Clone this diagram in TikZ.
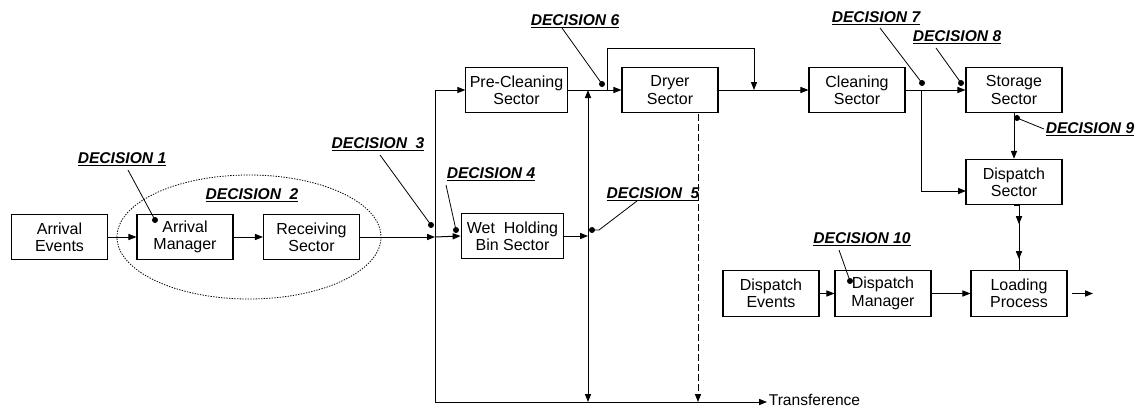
\documentclass[tikz,border=0pt]{standalone}
\usepackage{fontspec}
\setmainfont{Liberation Sans}
\usetikzlibrary{arrows.meta,calc}
\begin{document}
\begin{tikzpicture}[x=0.75pt,y=-0.75pt,
  line width=0.75pt,
  >={Triangle[length=6pt,width=4.6pt]},
  box/.style={draw,line width=0.8pt,minimum width=72pt,minimum height=34pt,inner sep=1pt,
    align=center,font=\fontsize{12}{13}\selectfont},
  dlabel/.style={inner sep=1pt,font=\fontsize{11.7}{13}\selectfont\bfseries\itshape},
  dot/.style={circle,fill,inner sep=0pt,minimum size=4.5pt}
]
\useasboundingbox (0,0) rectangle (1143,407);
% boxes
\node[box] (ae) at (59.5,237) {Arrival\\Events};
\node[box] (am) at (185,237) {Arrival\\Manager};
\node[box] (rs) at (311.5,237) {Receiving\\Sector};
\node[box,minimum width=76pt] (pc) at (516.5,90) {Pre-Cleaning\\Sector};
\node[box] (dr) at (670,90) {Dryer\\Sector};
\node[box,minimum width=77pt] (wh) at (512.5,236) {Wet~ Holding\\Bin Sector};
\node[box] (cl) at (857,90) {Cleaning\\Sector};
\node[box] (st) at (1014,90) {Storage\\Sector};
\node[box] (ds) at (1014,182) {Dispatch\\Sector};
\node[box] (de) at (771,293.5) {Dispatch\\Events};
\node[box] (dm) at (883,293.5) {Dispatch\\Manager};
\node[box] (lp) at (1019,293.5) {Loading\\Process};
% ellipse
\draw[line width=0.6pt,dash pattern=on 1pt off 1pt] (249,237) ellipse [x radius=132, y radius=62];
% coordinates
\coordinate (j3) at (435,237);
\coordinate (v1t) at (435,90);
\coordinate (v1b) at (435,402);
\coordinate (v2t) at (588,90);
\coordinate (v2b) at (588,402);
\coordinate (trE) at (767,402);
\coordinate (lpa) at (607,90);
\coordinate (lpb) at (607,48);
\coordinate (lpc) at (754,48);
\coordinate (lpd) at (754,90);
\coordinate (dsh) at (698,114);
\coordinate (dsb) at (698,402);
\coordinate (br) at (921,90);
\coordinate (brd) at (966,191);
\coordinate (outS) at (1072,293.5);
\coordinate (outE) at (1093,293.5);
% connectors
\draw[->] (ae) -- (am);
\draw[->] (am) -- (rs);
\draw[->] (rs.east) -- (j3);
\draw[->] (j3) -- (wh.west);
\draw[->] (v1b) -- (v1t) -- (pc.west);
\draw[->] (v1t) -- (v1b) -- (trE);
\node[anchor=base west,inner sep=1pt,font=\fontsize{11.7}{13}\selectfont] (tr) at ($(trE)+(0,3.5)$) {Transference};
\draw[->] (wh.east) -- (wh.east -| v2t);
\draw[<->] (v2t) -- (v2b);
\draw[->] (pc) -- (dr);
\draw[->] (lpa) -- (lpb) -- (lpc) -- (lpd);
\draw[->] (dr) -- (cl);
\draw[->,dashed,dash pattern=on 5pt off 2.5pt] (dsh) -- (dsb);
\draw[->] (cl) -- (st);
\draw[->] (br) |- (brd);
\draw[->] (st) -- (ds);
\draw (ds.south) -- (lp.north |- ds.south) -- (lp.north);
\draw[->] (lp.north |- ds.south) -- ++(0,19);
\draw[->] (lp.north |- ds.south) -- ++(0,54);
\draw[->] (de) -- (dm);
\draw[->] (dm) -- (lp);
\draw[->] (outS) -- (outE);
% decisions
\node[dlabel] (d1) at (122,159) {\underline{DECISION 1}};
\node[dlabel] (d2) at (252,195) {\underline{DECISION~ 2}};
\node[dlabel] (d3) at (378,144) {\underline{DECISION~ 3}};
\node[dlabel] (d4) at (491,174) {\underline{DECISION 4}};
\node[dlabel] (d5) at (653,194) {\underline{DECISION~ 5}};
\node[dlabel] (d6) at (575,21) {\underline{DECISION 6}};
\node[dlabel] (d7) at (876,18) {\underline{DECISION 7}};
\node[dlabel] (d8) at (957,37) {\underline{DECISION 8}};
\node[dlabel] (d9) at (1090,129) {\underline{DECISION 9}};
\node[dlabel] (d10) at (862,239) {\underline{DECISION 10}};
\node[dot] (p1) at (155,220) {};
\node[dot] (p3) at (431,225) {};
\node[dot] (p4) at (456,230) {};
\node[dot] (p5) at (592,230) {};
\node[dot] (p6) at (602,84) {};
\node[dot] (p7) at (922,83) {};
\node[dot] (p8) at (961,83) {};
\node[dot] (p9) at (1017,118) {};
\node[dot] (p10) at (850,281) {};
\coordinate (q1) at (128,170);
\coordinate (q3) at (380,155);
\coordinate (q4) at (446,185);
\coordinate (q5) at (637,201);
\coordinate (q5b) at (599,230);
\coordinate (q6) at (562,28);
\coordinate (q7) at (880,28);
\coordinate (q8) at (936,48);
\coordinate (q9) at (1044,129);
\coordinate (q10) at (839,250);
\draw[line width=0.6pt] (q1) -- (p1.center);
\draw[line width=0.6pt] (q3) -- (p3.center);
\draw[line width=0.6pt] (q4) -- (p4.center);
\draw[line width=0.6pt] (q5) -- (q5b) -- (p5.center);
\draw[line width=0.6pt] (q6) -- (p6.center);
\draw[line width=0.6pt] (q7) -- (p7.center);
\draw[line width=0.6pt] (q8) -- (p8.center);
\draw[line width=0.6pt] (q9) -- (p9.center);
\draw[line width=0.6pt] (q10) -- (p10.center);
\end{tikzpicture}
\end{document}
